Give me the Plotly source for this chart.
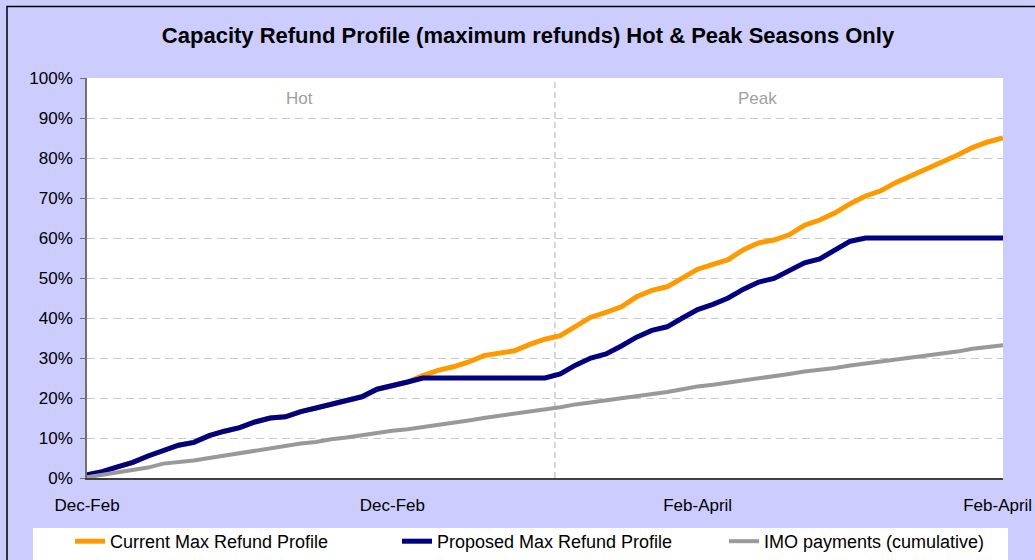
import plotly.graph_objects as go

# ---------------- data ----------------
period = list(range(61))

current_max = [0.8, 1.6, 2.8, 3.9, 5.5, 7.0, 8.2, 8.9, 10.6, 11.7,
               12.6, 14.0, 15.0, 15.3, 16.6, 17.5, 18.5, 19.3, 20.3, 22.2,
               23.0, 24.0, 25.6, 26.9, 27.8, 29.0, 30.6, 31.3, 31.8, 33.4,
               34.7, 35.6, 38.0, 40.2, 41.4, 42.8, 45.3, 46.9, 47.8, 50.0,
               52.2, 53.4, 54.6, 57.1, 58.8, 59.5, 60.8, 63.2, 64.5, 66.3,
               68.6, 70.5, 71.8, 73.9, 75.6, 77.2, 78.8, 80.7, 82.6, 84.0,
               85.0]

proposed_max = [0.8, 1.6, 2.8, 3.9, 5.5, 7.0, 8.2, 8.9, 10.6, 11.7,
                12.6, 14.0, 15.0, 15.3, 16.6, 17.5, 18.5, 19.3, 20.3, 22.2,
                23.0, 24.0, 25.0, 25.0, 25.0, 25.0, 25.0, 25.0, 25.0, 25.0,
                25.0, 26.0, 28.2, 30.0, 31.0, 33.0, 35.2, 36.9, 37.8, 40.0,
                42.1, 43.4, 45.0, 47.2, 49.0, 49.9, 51.8, 53.8, 54.8, 57.0,
                59.2, 60.0, 60.0, 60.0, 60.0, 60.0, 60.0, 60.0, 60.0, 60.0,
                60.0]

imo_payments = [0.2, 0.8, 1.4, 1.9, 2.6, 3.6, 3.9, 4.4, 5.0, 5.6,
                6.3, 7.0, 7.6, 8.1, 8.6, 9.0, 9.7, 10.1, 10.7, 11.2,
                11.8, 12.2, 12.7, 13.2, 13.9, 14.4, 15.0, 15.5, 16.0, 16.6,
                17.0, 17.7, 18.4, 18.9, 19.3, 19.8, 20.3, 21.0, 21.5, 22.2,
                22.9, 23.3, 23.8, 24.4, 24.9, 25.4, 26.0, 26.6, 27.0, 27.5,
                28.1, 28.6, 29.0, 29.6, 30.1, 30.5, 31.0, 31.6, 32.3, 32.8,
                33.2]

tick_positions = [0, 20, 40, 59.65]
tick_labels = ["Dec-Feb", "Dec-Feb", "Feb-April", "Feb-April"]

season_boundary = 30.65
season_labels = ["Hot", "Peak"]
season_label_x = [13.9, 43.95]
season_label_y = 95

y_ticks = list(range(0, 101, 10))
y_tick_text = [f"{v}%" for v in y_ticks]

# ---------------- figure ----------------
FONT = "Liberation Sans, Arial, sans-serif"

fig = go.Figure()
fig.add_trace(go.Scatter(x=period, y=current_max, mode="lines",
                         name="Current Max Refund Profile",
                         line=dict(color="#FF9900", width=5)))
fig.add_trace(go.Scatter(x=period, y=proposed_max, mode="lines",
                         name="Proposed Max Refund Profile",
                         line=dict(color="#000080", width=5)))
fig.add_trace(go.Scatter(x=period, y=imo_payments, mode="lines",
                         name="IMO payments (cumulative)",
                         line=dict(color="#999999", width=4)))

W, H = 1035, 560
L, R, T, B = 87, W - 1003, 78, H - 478
pw, ph = W - L - R, H - T - B

def px_x(p):
    return (p - L) / pw

def px_y(p):
    return (H - B - p) / ph

shapes = [
    # legend white box
    dict(type="rect", xref="paper", yref="paper",
         x0=px_x(33), x1=px_x(1008), y0=px_y(575), y1=px_y(528),
         fillcolor="white", line=dict(width=0), layer="below"),
    # season boundary
    dict(type="line", xref="x", yref="paper",
         x0=season_boundary, x1=season_boundary, y0=0, y1=1,
         line=dict(color="#B0B0B0", width=1, dash="6px,4px"), layer="below"),
    # outer border
    dict(type="rect", xref="paper", yref="paper",
         x0=px_x(7), x1=px_x(1060), y0=px_y(600), y1=px_y(6.5),
         fillcolor="rgba(0,0,0,0)", line=dict(color="black", width=1.5),
         layer="above"),
]

annotations = [
    dict(x=sx, y=season_label_y, xref="x", yref="y", text=s, showarrow=False,
         font=dict(family=FONT, size=17, color="#A0A0A0"))
    for s, sx in zip(season_labels, season_label_x)
]

fig.update_layout(
    width=W, height=H,
    margin=dict(l=L, r=R, t=T, b=B, pad=0, autoexpand=False),
    paper_bgcolor="#CCCCFF",
    plot_bgcolor="white",
    font=dict(family=FONT, size=18, color="black"),
    title=dict(text="<b>Capacity Refund Profile (maximum refunds) Hot & Peak Seasons Only</b>",
               x=528 / W, xref="container", xanchor="center",
               y=1 - 35 / H, yanchor="middle",
               font=dict(family=FONT, size=22, color="black")),
    xaxis=dict(range=[0, 60], tickvals=tick_positions, ticktext=tick_labels,
               showgrid=False, zeroline=False, showline=True,
               linecolor="#404040", linewidth=1.5, ticks="",
               ticklabelstandoff=11, ticklabeloverflow="allow",
               tickfont=dict(family=FONT, size=17, color="black")),
    yaxis=dict(range=[0, 100], tickvals=y_ticks, ticktext=y_tick_text,
               showgrid=True, gridcolor="#C8C8C8", gridwidth=1,
               griddash="8px,5px", zeroline=False,
               showline=True, linecolor="#707070", linewidth=1.5,
               ticks="outside", ticklen=5, tickcolor="#707070",
               ticklabelstandoff=4,
               tickfont=dict(family=FONT, size=17, color="black")),
    legend=dict(orientation="h", x=px_x(70), xanchor="left",
                y=px_y(560), yanchor="bottom", bgcolor="rgba(0,0,0,0)",
                entrywidth=282, entrywidthmode="pixels",
                font=dict(family=FONT, size=18, color="black"),
                traceorder="normal"),
    shapes=shapes,
    annotations=annotations,
    showlegend=True,
)

fig.write_html("out.html",
               config={"displayModeBar": False},
               post_script="document.body.style.margin='0';"
                           "document.documentElement.style.overflow='hidden';")
